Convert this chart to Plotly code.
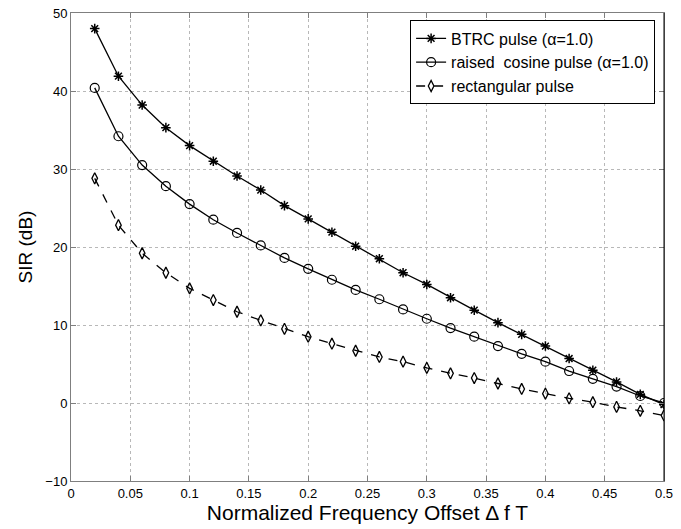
import plotly.graph_objects as go

x_offset = [0.02, 0.04, 0.06, 0.08, 0.10, 0.12, 0.14, 0.16, 0.18, 0.20, 0.22, 0.24, 0.26,
            0.28, 0.30, 0.32, 0.34, 0.36, 0.38, 0.40, 0.42, 0.44, 0.46, 0.48, 0.50]
sir_btrc = [48.0, 41.9, 38.2, 35.3, 33.0, 31.0, 29.1, 27.3, 25.3, 23.6, 21.9, 20.1, 18.5,
            16.7, 15.2, 13.5, 11.9, 10.3, 8.8, 7.3, 5.7, 4.2, 2.7, 1.1, -0.2]
sir_rc = [40.4, 34.2, 30.5, 27.8, 25.5, 23.5, 21.8, 20.2, 18.6, 17.2, 15.8, 14.5, 13.3,
          12.0, 10.8, 9.6, 8.5, 7.3, 6.3, 5.3, 4.1, 3.1, 2.1, 0.9, 0.0]
sir_rect = [28.8, 22.8, 19.2, 16.7, 14.7, 13.2, 11.7, 10.6, 9.5, 8.5, 7.6, 6.7, 5.9,
            5.3, 4.5, 3.8, 3.2, 2.5, 1.8, 1.2, 0.6, 0.1, -0.5, -1.0, -1.6]

names = ["BTRC pulse (α=1.0)", "raised  cosine pulse (α=1.0)", "rectangular pulse"]
x_ticks = [0, 0.05, 0.1, 0.15, 0.2, 0.25, 0.3, 0.35, 0.4, 0.45, 0.5]
x_ticklabels = ["0", "0.05", "0.1", "0.15", "0.2", "0.25", "0.3", "0.35", "0.4", "0.45", "0.5"]
y_ticks = [-10, 0, 10, 20, 30, 40, 50]

fig = go.Figure()
fig.add_trace(go.Scatter(x=x_offset, y=sir_btrc, name=names[0], mode="lines+markers",
                         line=dict(color="black", width=1.3),
                         marker=dict(symbol="asterisk-open", size=8, color="black",
                                     line=dict(color="black", width=1.5))))
fig.add_trace(go.Scatter(x=x_offset, y=sir_rc, name=names[1], mode="lines+markers",
                         line=dict(color="black", width=1.3),
                         marker=dict(symbol="circle-open", size=9, color="black",
                                     line=dict(color="black", width=1.2))))
fig.add_trace(go.Scatter(x=x_offset, y=sir_rect, name=names[2], mode="lines+markers",
                         line=dict(color="black", width=1.3, dash="dash"),
                         marker=dict(symbol="diamond-tall-open", size=8, color="black",
                                     line=dict(color="black", width=1.3))))

axis_common = dict(showline=True, linecolor="#7f7f7f", linewidth=1, mirror="allticks",
                   ticks="inside", ticklen=5, tickcolor="#7f7f7f",
                   showgrid=True, gridcolor="#b8b8b8", griddash="dot", gridwidth=1,
                   zeroline=False, tickfont=dict(size=13, color="black"),
                   automargin=False)

fig.update_xaxes(range=[0, 0.5], tickvals=x_ticks, ticktext=x_ticklabels,
                 title=dict(text="Normalized Frequency Offset Δ f T", font=dict(size=21),
                            standoff=3),
                 **axis_common)
fig.update_yaxes(range=[-10, 50], tickvals=y_ticks,
                 title=dict(text="SIR (dB)", font=dict(size=19), standoff=7),
                 **axis_common)

fig.add_shape(type="line", xref="paper", yref="paper", x0=1, x1=1, y0=0, y1=1,
              line=dict(color="black", width=1))

fig.update_layout(
    width=681, height=529,
    margin=dict(l=71, r=17, t=13, b=48),
    paper_bgcolor="white", plot_bgcolor="white",
    font=dict(family="Liberation Sans, Arial, sans-serif", color="black"),
    showlegend=True,
    legend=dict(x=0.985, y=0.984, xanchor="right", yanchor="top",
                bordercolor="black", borderwidth=1, bgcolor="white",
                font=dict(size=16), itemwidth=30, tracegroupgap=0),
)

fig.write_html("out.html")
